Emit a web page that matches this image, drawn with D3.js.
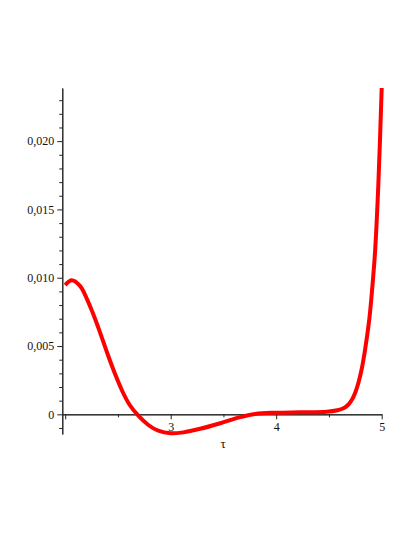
<!DOCTYPE html>
<html>
<head>
<meta charset="utf-8">
<script src="https://cdn.jsdelivr.net/npm/d3@7"></script>
<style>
  body { margin: 0; background: #fff; }
</style>
</head>
<body>
<div id="chart"></div>
<script>
// curve
var tau = [2.00, 2.062, 2.14, 2.20, 2.26, 2.33, 2.40, 2.47, 2.54, 2.61, 2.693, 2.788, 2.882, 3.00, 3.12, 3.278, 3.47, 3.65, 3.80, 4.00, 4.225, 4.48, 4.58, 4.637, 4.68, 4.716, 4.75, 4.778, 4.81, 4.842, 4.883, 4.911, 4.937, 4.968, 5.00]
var values = [0.00946, 0.00981, 0.0094, 0.00855, 0.00745, 0.0060, 0.00445, 0.0030, 0.00172, 0.0007, -0.0001, -0.00078, -0.0012, -0.00139, -0.00132, -0.00106, -0.00065, -0.00022, 0.00003, 0.00012, 0.00015, 0.00019, 0.0003, 0.00044, 0.00068, 0.00105, 0.0016, 0.00227, 0.0033, 0.00471, 0.0070, 0.0093, 0.0119, 0.0168, 0.02389]

var xTicks = [2, 3, 4, 5]
var xTickLabels = ["", "3", "4", "5"]
var xMinorTicks = [2.5, 3.5, 4.5]
var yTicks = [0, 0.005, 0.01, 0.015, 0.02]
var yTickLabels = ["0", "0,005", "0,010", "0,015", "0,020"]
var yMinorTicks = [-0.001, 0.001, 0.002, 0.003, 0.004, 0.006, 0.007, 0.008, 0.009, 0.011, 0.012, 0.013, 0.014, 0.016, 0.017, 0.018, 0.019, 0.021, 0.022, 0.023]

var width = 415,
    height = 537,
    font = "Liberation Serif"

var svg = d3.select("#chart")
  .append("svg")
    .attr("width", width)
    .attr("height", height)

var x = d3.scaleLinear()
  .domain([1.9725, 5])
  .range([62.3, 381.7])

var y = d3.scaleLinear()
  .domain([-0.00144, 0.02389])
  .range([434, 88])

// x axis sits on y = 0
var xAxis = svg.append("g")
  .attr("transform", "translate(0," + y(0) + ")")
  .call(d3.axisBottom(x)
    .tickValues(xTicks)
    .tickSize(5)
    .tickSizeOuter(0)
    .tickFormat(function(d, i) { return xTickLabels[i] }))
xAxis.attr("font-family", font).attr("font-size", 12)
xAxis.selectAll("text").attr("y", 8).attr("fill", "#111")
xAxis.selectAll("line, path").attr("stroke", "#222")

svg.append("g")
  .attr("transform", "translate(0," + y(0) + ")")
  .call(d3.axisBottom(x).tickValues(xMinorTicks).tickSize(3).tickSizeOuter(0).tickFormat(""))
  .selectAll("line, path").attr("stroke", "#222")

var yAxis = svg.append("g")
  .attr("transform", "translate(" + x.range()[0] + ",0)")
  .call(d3.axisLeft(y)
    .tickValues(yTicks)
    .tickSize(5)
    .tickSizeOuter(0)
    .tickFormat(function(d, i) { return yTickLabels[i] }))
yAxis.attr("font-family", font).attr("font-size", 12)
yAxis.selectAll("text").attr("x", -8).attr("fill", "#111")
yAxis.selectAll("line, path").attr("stroke", "#222")

svg.append("g")
  .attr("transform", "translate(" + x.range()[0] + ",0)")
  .call(d3.axisLeft(y).tickValues(yMinorTicks).tickSize(3).tickSizeOuter(0).tickFormat(""))
  .selectAll("line, path").attr("stroke", "#222")

svg.append("text")
  .attr("x", 223)
  .attr("y", 448)
  .attr("text-anchor", "middle")
  .attr("font-family", font)
  .attr("font-size", 13)
  .attr("fill", "#111")
  .text("τ")

var line = d3.line()
  .x(function(d, i) { return x(tau[i]) })
  .y(function(d) { return y(d) })
  .curve(d3.curveCatmullRom.alpha(0.5))

svg.append("path")
  .datum(values)
  .attr("d", line)
  .attr("fill", "none")
  .attr("stroke", "#ff0000")
  .attr("stroke-width", 4)
  .attr("stroke-linejoin", "round")
</script>
</body>
</html>
